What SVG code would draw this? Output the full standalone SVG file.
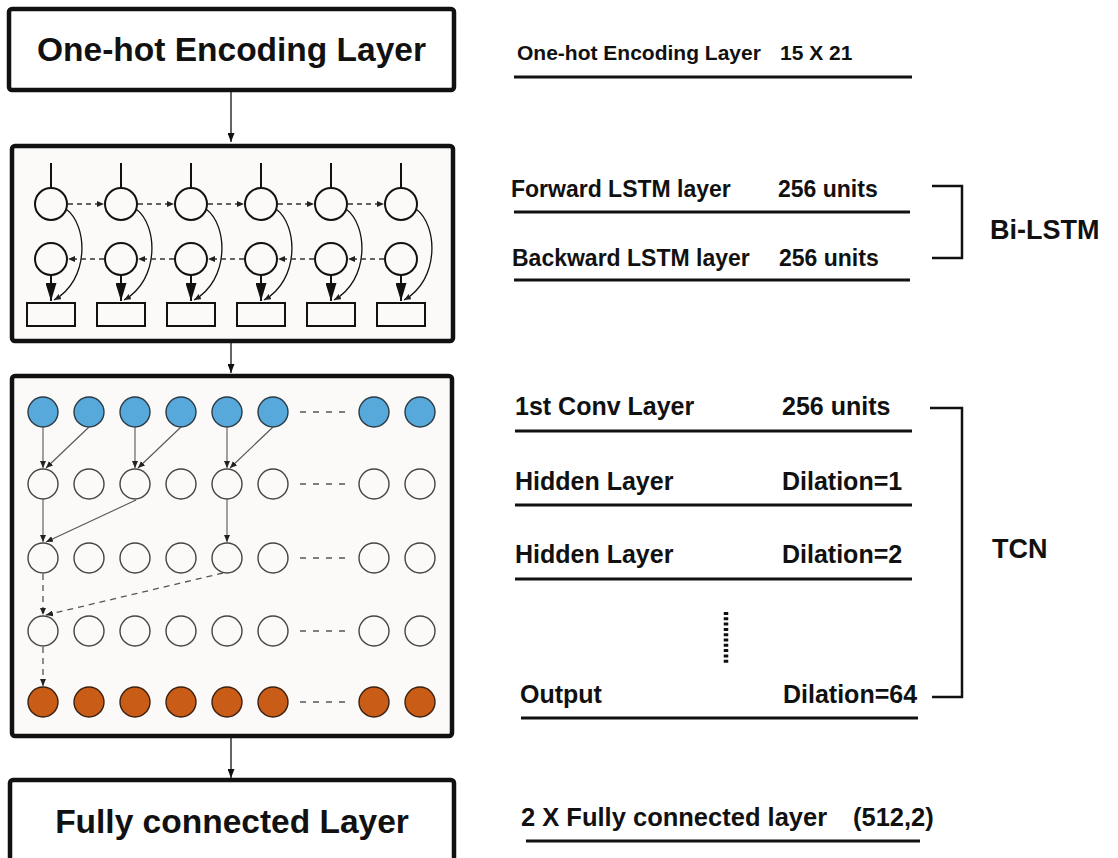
<svg xmlns="http://www.w3.org/2000/svg" width="1118" height="858" viewBox="0 0 1118 858">
  <style>
    text { font-family: "Liberation Sans", Arial, sans-serif; font-weight: bold; fill: #111; }
    .box { fill: #ffffff; stroke: #111; stroke-width: 4.5; }
    .panel { fill: #fbfaf8; stroke: #111; stroke-width: 4.5; }
    .title { font-size: 33.5px; text-anchor: middle; }
    .lbl-top { font-size: 21px; }
    .lbl-lstm { font-size: 23px; }
    .lbl-tcn { font-size: 25px; }
    .lbl-dense { font-size: 25.5px; }
    .big { font-size: 27px; }
    .rule { stroke: #111; stroke-width: 3; fill: none; }
    .bracket { stroke: #111; stroke-width: 2.5; fill: none; }
    .flow { stroke: #111; stroke-width: 1.3; fill: none; }
    .cell { fill: none; stroke: #111; stroke-width: 2; }
    .gate { fill: #fbfaf8; stroke: #111; stroke-width: 2; }
    .dash-h { stroke: #333; stroke-width: 1.5; stroke-dasharray: 5 4; fill: none; }
    .tap { stroke: #111; stroke-width: 2; fill: none; }
    .curve { stroke: #111; stroke-width: 1.3; fill: none; }
    .n-in { fill: #56a9da; stroke: #2b3a44; stroke-width: 1.4; }
    .n-h { fill: #fbfaf8; stroke: #444; stroke-width: 1.4; }
    .n-out { fill: #c95c17; stroke: #3a2010; stroke-width: 1.4; }
    .edge { stroke: #555; stroke-width: 1.1; fill: none; }
    .edge-d { stroke: #555; stroke-width: 1.3; fill: none; stroke-dasharray: 6 5; }
    .gap { stroke: #555; stroke-width: 1.5; stroke-dasharray: 6 7; fill: none; }
  </style>
  <defs>
    <marker id="ah" markerUnits="userSpaceOnUse" markerWidth="9" markerHeight="7" refX="9" refY="3.5" orient="auto">
      <path d="M0,0 L9,3.5 L0,7 z" fill="#111"/>
    </marker>
    <marker id="ah-s" markerUnits="userSpaceOnUse" markerWidth="7" markerHeight="6" refX="7" refY="3" orient="auto">
      <path d="M0,0 L7,3 L0,6 z" fill="#222"/>
    </marker>
    <marker id="ah-big" markerUnits="userSpaceOnUse" markerWidth="18" markerHeight="11" refX="18" refY="5.5" orient="auto">
      <path d="M0,0 L18,5.5 L0,11 z" fill="#111"/>
    </marker>
  </defs>

  <rect width="1118" height="858" fill="#ffffff"/>

  <!-- input encoding block -->
  <g id="onehot">
    <rect class="box" x="9" y="9" width="445" height="81" rx="3"/>
    <text class="title" x="231.5" y="61">One-hot Encoding Layer</text>
  </g>

  <!-- bidirectional LSTM block -->
  <g id="bilstm">
    <rect class="panel" x="12" y="146" width="441" height="195" rx="3"/>
    <g id="lstm-col-0" transform="translate(51,0)">
      <line class="tap" x1="0" y1="163" x2="0" y2="188"/>
      <circle class="cell" cx="0" cy="204" r="16"/>
      <circle class="cell" cx="0" cy="259" r="16"/>
      <line class="tap" x1="0" y1="275" x2="0" y2="301" marker-end="url(#ah-big)"/>
      <rect class="gate" x="-24" y="303" width="48" height="23"/>
      <path class="curve" d="M15,209 C37,225 39,280 3,300" marker-end="url(#ah-s)"/>
    </g>
    <g id="lstm-col-1" transform="translate(121,0)">
      <line class="tap" x1="0" y1="163" x2="0" y2="188"/>
      <circle class="cell" cx="0" cy="204" r="16"/>
      <circle class="cell" cx="0" cy="259" r="16"/>
      <line class="tap" x1="0" y1="275" x2="0" y2="301" marker-end="url(#ah-big)"/>
      <rect class="gate" x="-24" y="303" width="48" height="23"/>
      <path class="curve" d="M15,209 C37,225 39,280 3,300" marker-end="url(#ah-s)"/>
    </g>
    <g id="lstm-col-2" transform="translate(191,0)">
      <line class="tap" x1="0" y1="163" x2="0" y2="188"/>
      <circle class="cell" cx="0" cy="204" r="16"/>
      <circle class="cell" cx="0" cy="259" r="16"/>
      <line class="tap" x1="0" y1="275" x2="0" y2="301" marker-end="url(#ah-big)"/>
      <rect class="gate" x="-24" y="303" width="48" height="23"/>
      <path class="curve" d="M15,209 C37,225 39,280 3,300" marker-end="url(#ah-s)"/>
    </g>
    <g id="lstm-col-3" transform="translate(261,0)">
      <line class="tap" x1="0" y1="163" x2="0" y2="188"/>
      <circle class="cell" cx="0" cy="204" r="16"/>
      <circle class="cell" cx="0" cy="259" r="16"/>
      <line class="tap" x1="0" y1="275" x2="0" y2="301" marker-end="url(#ah-big)"/>
      <rect class="gate" x="-24" y="303" width="48" height="23"/>
      <path class="curve" d="M15,209 C37,225 39,280 3,300" marker-end="url(#ah-s)"/>
    </g>
    <g id="lstm-col-4" transform="translate(331,0)">
      <line class="tap" x1="0" y1="163" x2="0" y2="188"/>
      <circle class="cell" cx="0" cy="204" r="16"/>
      <circle class="cell" cx="0" cy="259" r="16"/>
      <line class="tap" x1="0" y1="275" x2="0" y2="301" marker-end="url(#ah-big)"/>
      <rect class="gate" x="-24" y="303" width="48" height="23"/>
      <path class="curve" d="M15,209 C37,225 39,280 3,300" marker-end="url(#ah-s)"/>
    </g>
    <g id="lstm-col-5" transform="translate(401,0)">
      <line class="tap" x1="0" y1="163" x2="0" y2="188"/>
      <circle class="cell" cx="0" cy="204" r="16"/>
      <circle class="cell" cx="0" cy="259" r="16"/>
      <line class="tap" x1="0" y1="275" x2="0" y2="301" marker-end="url(#ah-big)"/>
      <rect class="gate" x="-24" y="303" width="48" height="23"/>
      <path class="curve" d="M15,209 C37,225 39,280 3,300" marker-end="url(#ah-s)"/>
    </g>
    <!-- forward (left to right) and backward (right to left) recurrences -->
    <g id="lstm-recurrence">
      <line class="dash-h" x1="68" y1="204" x2="104" y2="204" marker-end="url(#ah-s)"/>
      <line class="dash-h" x1="138" y1="204" x2="174" y2="204" marker-end="url(#ah-s)"/>
      <line class="dash-h" x1="208" y1="204" x2="244" y2="204" marker-end="url(#ah-s)"/>
      <line class="dash-h" x1="278" y1="204" x2="314" y2="204" marker-end="url(#ah-s)"/>
      <line class="dash-h" x1="348" y1="204" x2="384" y2="204" marker-end="url(#ah-s)"/>
      <line class="dash-h" x1="104" y1="259" x2="68" y2="259" marker-end="url(#ah-s)"/>
      <line class="dash-h" x1="174" y1="259" x2="138" y2="259" marker-end="url(#ah-s)"/>
      <line class="dash-h" x1="244" y1="259" x2="208" y2="259" marker-end="url(#ah-s)"/>
      <line class="dash-h" x1="314" y1="259" x2="278" y2="259" marker-end="url(#ah-s)"/>
      <line class="dash-h" x1="384" y1="259" x2="348" y2="259" marker-end="url(#ah-s)"/>
    </g>
  </g>

  <!-- temporal convolution block -->
  <g id="tcn">
    <rect class="panel" x="12" y="376" width="440" height="360" rx="3"/>
    <g id="tcn-input">
      <circle class="n-in" cx="43" cy="412" r="15"/>
      <circle class="n-in" cx="89" cy="412" r="15"/>
      <circle class="n-in" cx="135" cy="412" r="15"/>
      <circle class="n-in" cx="181" cy="412" r="15"/>
      <circle class="n-in" cx="227" cy="412" r="15"/>
      <circle class="n-in" cx="273" cy="412" r="15"/>
      <circle class="n-in" cx="374" cy="412" r="15"/>
      <circle class="n-in" cx="420" cy="412" r="15"/>
      <line class="gap" x1="300" y1="412" x2="348" y2="412" stroke="#222"/>
    </g>
    <g id="tcn-hidden-1">
      <circle class="n-h" cx="43" cy="484" r="15"/>
      <circle class="n-h" cx="89" cy="484" r="15"/>
      <circle class="n-h" cx="135" cy="484" r="15"/>
      <circle class="n-h" cx="181" cy="484" r="15"/>
      <circle class="n-h" cx="227" cy="484" r="15"/>
      <circle class="n-h" cx="273" cy="484" r="15"/>
      <circle class="n-h" cx="374" cy="484" r="15"/>
      <circle class="n-h" cx="420" cy="484" r="15"/>
      <line class="gap" x1="300" y1="484" x2="348" y2="484"/>
    </g>
    <g id="tcn-hidden-2">
      <circle class="n-h" cx="43" cy="558" r="15"/>
      <circle class="n-h" cx="89" cy="558" r="15"/>
      <circle class="n-h" cx="135" cy="558" r="15"/>
      <circle class="n-h" cx="181" cy="558" r="15"/>
      <circle class="n-h" cx="227" cy="558" r="15"/>
      <circle class="n-h" cx="273" cy="558" r="15"/>
      <circle class="n-h" cx="374" cy="558" r="15"/>
      <circle class="n-h" cx="420" cy="558" r="15"/>
      <line class="gap" x1="300" y1="558" x2="348" y2="558"/>
    </g>
    <g id="tcn-hidden-3">
      <circle class="n-h" cx="43" cy="631" r="15"/>
      <circle class="n-h" cx="89" cy="631" r="15"/>
      <circle class="n-h" cx="135" cy="631" r="15"/>
      <circle class="n-h" cx="181" cy="631" r="15"/>
      <circle class="n-h" cx="227" cy="631" r="15"/>
      <circle class="n-h" cx="273" cy="631" r="15"/>
      <circle class="n-h" cx="374" cy="631" r="15"/>
      <circle class="n-h" cx="420" cy="631" r="15"/>
      <line class="gap" x1="300" y1="631" x2="348" y2="631"/>
    </g>
    <g id="tcn-output">
      <circle class="n-out" cx="43" cy="702" r="15"/>
      <circle class="n-out" cx="89" cy="702" r="15"/>
      <circle class="n-out" cx="135" cy="702" r="15"/>
      <circle class="n-out" cx="181" cy="702" r="15"/>
      <circle class="n-out" cx="227" cy="702" r="15"/>
      <circle class="n-out" cx="273" cy="702" r="15"/>
      <circle class="n-out" cx="374" cy="702" r="15"/>
      <circle class="n-out" cx="420" cy="702" r="15"/>
      <line class="gap" x1="300" y1="702" x2="348" y2="702"/>
    </g>
    <!-- dilated causal connections -->
    <g id="tcn-edges">
      <line class="edge" x1="43" y1="427" x2="43" y2="468" marker-end="url(#ah-s)"/>
      <line class="edge" x1="89" y1="427" x2="46" y2="468" marker-end="url(#ah-s)"/>
      <line class="edge" x1="135" y1="427" x2="135" y2="468" marker-end="url(#ah-s)"/>
      <line class="edge" x1="181" y1="427" x2="138" y2="468" marker-end="url(#ah-s)"/>
      <line class="edge" x1="227" y1="427" x2="227" y2="468" marker-end="url(#ah-s)"/>
      <line class="edge" x1="273" y1="427" x2="230" y2="468" marker-end="url(#ah-s)"/>
      <line class="edge" x1="43" y1="499" x2="43" y2="542" marker-end="url(#ah-s)"/>
      <line class="edge" x1="136" y1="500" x2="46" y2="542" marker-end="url(#ah-s)"/>
      <line class="edge" x1="227" y1="499" x2="227" y2="542" marker-end="url(#ah-s)"/>
      <line class="edge-d" x1="43" y1="574" x2="43" y2="615" marker-end="url(#ah-s)"/>
      <line class="edge-d" x1="223" y1="573" x2="46" y2="615" marker-end="url(#ah-s)"/>
      <line class="edge-d" x1="43" y1="647" x2="43" y2="686" marker-end="url(#ah-s)"/>
    </g>
  </g>

  <!-- classifier block -->
  <g id="dense">
    <rect class="box" x="10" y="780" width="444" height="90" rx="3"/>
    <text class="title" x="232" y="833">Fully connected Layer</text>
  </g>

  <!-- flow between blocks -->
  <g id="connectors">
    <line class="flow" x1="231" y1="90" x2="231" y2="142" marker-end="url(#ah)"/>
    <line class="flow" x1="231" y1="343" x2="231" y2="373" marker-end="url(#ah)"/>
    <line class="flow" x1="231" y1="738" x2="231" y2="778" marker-end="url(#ah)"/>
  </g>

  <!-- layer descriptions -->
  <g id="spec-onehot">
    <text class="lbl-top" x="517" y="60">One-hot Encoding Layer</text>
    <text class="lbl-top" x="780" y="60">15 X 21</text>
    <line class="rule" x1="514" y1="77" x2="912" y2="77"/>
  </g>
  <g id="spec-bilstm">
    <text class="lbl-lstm" x="511" y="197">Forward LSTM layer</text>
    <text class="lbl-lstm" x="778" y="197">256 units</text>
    <line class="rule" x1="514" y1="212" x2="910" y2="212"/>
    <text class="lbl-lstm" x="512" y="266">Backward LSTM layer</text>
    <text class="lbl-lstm" x="779" y="266">256 units</text>
    <line class="rule" x1="514" y1="280" x2="910" y2="280"/>
    <path class="bracket" d="M932,186 H962 V258 H932"/>
    <text class="big" x="990" y="239">Bi-LSTM</text>
  </g>
  <g id="spec-tcn">
    <text class="lbl-tcn" x="515" y="415">1st Conv Layer</text>
    <text class="lbl-tcn" x="782" y="415">256 units</text>
    <line class="rule" x1="515" y1="431" x2="912" y2="431"/>
    <text class="lbl-tcn" x="515" y="490">Hidden Layer</text>
    <text class="lbl-tcn" x="782" y="490">Dilation=1</text>
    <line class="rule" x1="515" y1="505" x2="912" y2="505"/>
    <text class="lbl-tcn" x="515" y="563">Hidden Layer</text>
    <text class="lbl-tcn" x="782" y="563">Dilation=2</text>
    <line class="rule" x1="515" y1="579" x2="912" y2="579"/>
    <line x1="726" y1="612" x2="726" y2="663" stroke="#111" stroke-width="4.5" stroke-dasharray="3 2.3"/>
    <text class="lbl-tcn" x="520" y="703">Output</text>
    <text class="lbl-tcn" x="783" y="703">Dilation=64</text>
    <line class="rule" x1="521" y1="718" x2="918" y2="718"/>
    <path class="bracket" d="M930,408 H962 V697 H932"/>
    <text class="big" x="992" y="558">TCN</text>
  </g>
  <g id="spec-dense">
    <text class="lbl-dense" x="521" y="826">2 X Fully connected layer</text>
    <text class="lbl-dense" x="853" y="826">(512,2)</text>
    <line class="rule" x1="526" y1="841" x2="920" y2="841"/>
  </g>
</svg>
